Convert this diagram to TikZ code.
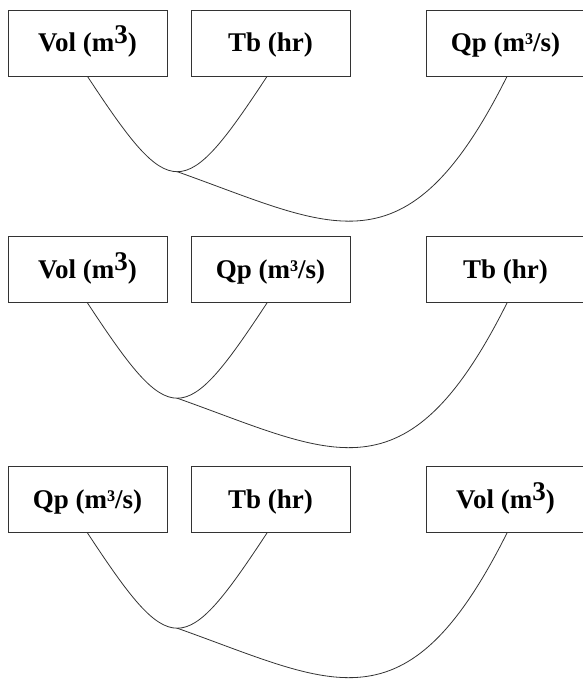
\documentclass[tikz,border=0pt]{standalone}
\usepackage{fontspec}
\setmainfont{Liberation Serif}
\newcommand{\mcub}{m\raisebox{8pt}{3}}

\begin{document}
\begin{tikzpicture}[x=1pt, y=-1pt, font=\fontsize{27}{31}\selectfont\bfseries,
  box/.style={draw=black!80, line width=0.9pt, minimum width=159pt, minimum height=66pt, inner sep=0pt,
    text height=17.8pt, text depth=0pt},
  link/.style={draw=black!80, line width=0.8pt}]
\useasboundingbox (0,0) rectangle (582,680);
% row 1
\node[box] (l1) at (87.5,43) {Vol (\mcub)};
\node[box] (m1) at (270.5,43) {Tb (hr)};
\node[box] (r1) at (505.5,43) {Qp (m³/s)};
% row 2
\node[box] (l2) at (87.5,269.5) {Vol (\mcub)};
\node[box] (m2) at (270.5,269.5) {Qp (m³/s)};
\node[box] (r2) at (505.5,269.5) {Tb (hr)};
% row 3
\node[box] (l3) at (87.5,499.5) {Qp (m³/s)};
\node[box] (m3) at (270.5,499.5) {Tb (hr)};
\node[box] (r3) at (505.5,499.5) {Vol (\mcub)};
\foreach \i in {1,2,3} {
  \draw[link] (l\i.south) .. controls +(83.6,127) and +(-83.6,127) .. ([xshift=-3.5pt]m\i.south)
    coordinate[pos=0.5] (j\i);
  \draw[link] (j\i) .. controls +(155,55) and +(-101,202) .. ([xshift=1.5pt]r\i.south);
}
\end{tikzpicture}
\end{document}
